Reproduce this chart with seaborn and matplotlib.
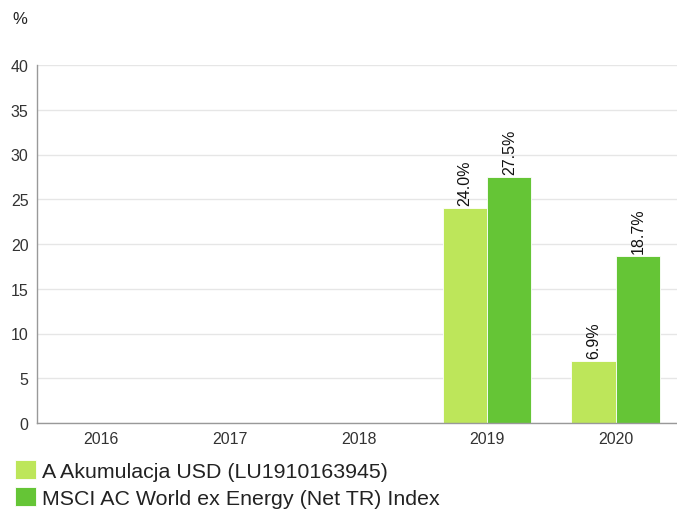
import numpy as np
import pandas as pd
import matplotlib
matplotlib.use("Agg")
import matplotlib.pyplot as plt
import seaborn as sns

years = ["2016", "2017", "2018", "2019", "2020"]
fund_name = "A Akumulacja USD (LU1910163945)"
index_name = "MSCI AC World ex Energy (Net TR) Index"
fund_values = [np.nan, np.nan, np.nan, 24.0, 6.9]
index_values = [np.nan, np.nan, np.nan, 27.5, 18.7]
y_ticks = [0, 5, 10, 15, 20, 25, 30, 35, 40]

df = pd.DataFrame({
    "year": years * 2,
    "series": [fund_name] * len(years) + [index_name] * len(years),
    "value": fund_values + index_values,
})

sns.set_theme(style="white")
plt.rcParams["font.family"] = ["Liberation Sans", "DejaVu Sans"]

fig = plt.figure(figsize=(6.77, 5.10), dpi=100)
ax = fig.add_axes([37 / 677, 86 / 510, 643 / 677, 358 / 510])

palette = {fund_name: "#bde65a", index_name: "#65c536"}
sns.barplot(data=df, x="year", y="value", hue="series", order=years,
            hue_order=[fund_name, index_name], palette=palette,
            width=0.69, saturation=1, edgecolor="white", linewidth=0.6,
            ax=ax, legend=True)

ax.set_ylim(0, 40)
ax.set_xlim(-0.5, 4.5)
ax.set_yticks(y_ticks)
ax.set_xlabel("")
ax.set_ylabel("")
ax.grid(axis="y", color="#e6e6e6", linewidth=1)
ax.set_axisbelow(True)
for side in ["top", "right"]:
    ax.spines[side].set_visible(False)
for side in ["left", "bottom"]:
    ax.spines[side].set_color("#999999")
    ax.spines[side].set_linewidth(1)
ax.tick_params(axis="both", length=0, labelsize=11.5, labelcolor="#333333")
ax.tick_params(axis="y", pad=6)
ax.tick_params(axis="x", pad=6)

# value labels above each bar, rotated
for container in ax.containers:
    labels = ["" if np.isnan(v) else f"{v:.1f}%" for v in container.datavalues]
    ax.bar_label(container, labels=labels, rotation=90, padding=2,
                 fontsize=11.5, color="#111111")

handles, labels = ax.get_legend_handles_labels()
ax.get_legend().remove()
fig.legend(handles, labels, loc="upper left", bbox_to_anchor=(15 / 677, 1 - 461 / 510),
           frameon=False, fontsize=15.4, handlelength=0.98, handleheight=0.98,
           handletextpad=0.28, labelspacing=0.29, borderaxespad=0, borderpad=0,
           labelcolor="#222222")

fig.text(12 / 677, 1 - 20 / 510, "%", fontsize=12, color="#222222",
         va="center", ha="left")

fig.savefig("out.png", dpi=100)
